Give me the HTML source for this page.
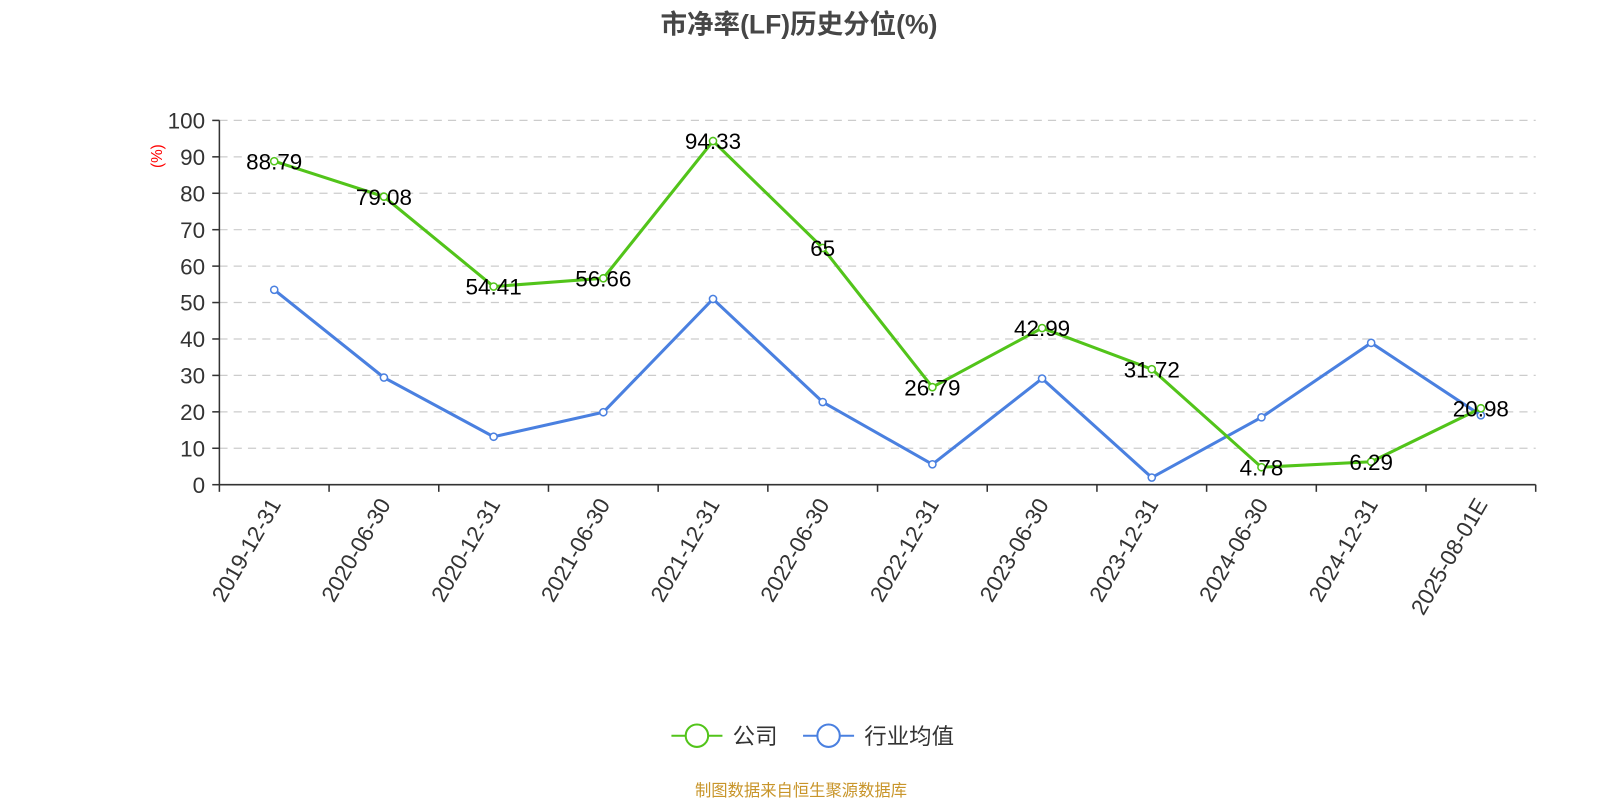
<!DOCTYPE html>
<html><head><meta charset="utf-8"><style>body{margin:0;background:#fff}svg{display:block}</style></head><body>
<svg width="1600" height="800" xmlns="http://www.w3.org/2000/svg" font-family="'Liberation Sans','Noto Sans CJK SC',sans-serif">
<g transform="scale(1.0204)">
<text x="783" y="33" text-anchor="middle" font-size="26" font-weight="bold" fill="#464646">市净率(LF)历史分位(%)</text>
<g stroke="#ccc" stroke-width="1.2" stroke-dasharray="8,6">
<line x1="215" x2="1505" y1="118" y2="118"/><line x1="215" x2="1505" y1="153.7" y2="153.7"/><line x1="215" x2="1505" y1="189.4" y2="189.4"/><line x1="215" x2="1505" y1="225.1" y2="225.1"/><line x1="215" x2="1505" y1="260.8" y2="260.8"/><line x1="215" x2="1505" y1="296.5" y2="296.5"/><line x1="215" x2="1505" y1="332.2" y2="332.2"/><line x1="215" x2="1505" y1="367.9" y2="367.9"/><line x1="215" x2="1505" y1="403.6" y2="403.6"/><line x1="215" x2="1505" y1="439.3" y2="439.3"/>
</g>
<g stroke="#333" stroke-width="1.5">
<line x1="215" x2="215" y1="118" y2="475"/><line x1="215" x2="1505" y1="475" y2="475"/>
<line x1="208" x2="215" y1="118" y2="118"/><line x1="208" x2="215" y1="153.7" y2="153.7"/><line x1="208" x2="215" y1="189.4" y2="189.4"/><line x1="208" x2="215" y1="225.1" y2="225.1"/><line x1="208" x2="215" y1="260.8" y2="260.8"/><line x1="208" x2="215" y1="296.5" y2="296.5"/><line x1="208" x2="215" y1="332.2" y2="332.2"/><line x1="208" x2="215" y1="367.9" y2="367.9"/><line x1="208" x2="215" y1="403.6" y2="403.6"/><line x1="208" x2="215" y1="439.3" y2="439.3"/><line x1="208" x2="215" y1="475" y2="475"/>
<line x1="215" x2="215" y1="475" y2="482"/><line x1="322.5" x2="322.5" y1="475" y2="482"/><line x1="430" x2="430" y1="475" y2="482"/><line x1="537.5" x2="537.5" y1="475" y2="482"/><line x1="645" x2="645" y1="475" y2="482"/><line x1="752.5" x2="752.5" y1="475" y2="482"/><line x1="860" x2="860" y1="475" y2="482"/><line x1="967.5" x2="967.5" y1="475" y2="482"/><line x1="1075" x2="1075" y1="475" y2="482"/><line x1="1182.5" x2="1182.5" y1="475" y2="482"/><line x1="1290" x2="1290" y1="475" y2="482"/><line x1="1397.5" x2="1397.5" y1="475" y2="482"/><line x1="1505" x2="1505" y1="475" y2="482"/>
</g>
<g font-size="22" fill="#333" text-anchor="end">
<text x="201" y="126">100</text><text x="201" y="161.7">90</text><text x="201" y="197.4">80</text><text x="201" y="233.1">70</text><text x="201" y="268.8">60</text><text x="201" y="304.5">50</text><text x="201" y="340.2">40</text><text x="201" y="375.9">30</text><text x="201" y="411.6">20</text><text x="201" y="447.3">10</text><text x="201" y="483">0</text>
</g>
<text transform="translate(159,153) rotate(-90)" font-size="15" fill="red" text-anchor="middle">(%)</text>
<g font-size="22" fill="#333" text-anchor="end">
<text transform="translate(276,494) rotate(-60)">2019-12-31</text>
<text transform="translate(383.5,494) rotate(-60)">2020-06-30</text>
<text transform="translate(491,494) rotate(-60)">2020-12-31</text>
<text transform="translate(598.5,494) rotate(-60)">2021-06-30</text>
<text transform="translate(706,494) rotate(-60)">2021-12-31</text>
<text transform="translate(813.5,494) rotate(-60)">2022-06-30</text>
<text transform="translate(921,494) rotate(-60)">2022-12-31</text>
<text transform="translate(1028.5,494) rotate(-60)">2023-06-30</text>
<text transform="translate(1136,494) rotate(-60)">2023-12-31</text>
<text transform="translate(1243.5,494) rotate(-60)">2024-06-30</text>
<text transform="translate(1351,494) rotate(-60)">2024-12-31</text>
<text transform="translate(1458.5,494) rotate(-60)">2025-08-01E</text>
</g>
<polyline fill="none" stroke="#4a80e0" stroke-width="3" points="268.75,284 376.25,370 483.75,428 591.25,404 698.75,293 806.25,394 913.75,455 1021.25,371 1128.75,468 1236.25,409 1343.75,336 1451.25,407"/>
<g fill="#fff" stroke="#4a80e0" stroke-width="1.5">
<circle cx="268.75" cy="284" r="3.5"/><circle cx="376.25" cy="370" r="3.5"/><circle cx="483.75" cy="428" r="3.5"/><circle cx="591.25" cy="404" r="3.5"/><circle cx="698.75" cy="293" r="3.5"/><circle cx="806.25" cy="394" r="3.5"/><circle cx="913.75" cy="455" r="3.5"/><circle cx="1021.25" cy="371" r="3.5"/><circle cx="1128.75" cy="468" r="3.5"/><circle cx="1236.25" cy="409" r="3.5"/><circle cx="1343.75" cy="336" r="3.5"/><circle cx="1451.25" cy="407" r="3.5"/>
</g>
<polyline fill="none" stroke="#52c41a" stroke-width="3" points="268.75,158 376.25,192.7 483.75,280.8 591.25,272.7 698.75,138.2 806.25,243 913.75,379.4 1021.25,321.5 1128.75,361.8 1236.25,457.9 1343.75,452.5 1451.25,400.1"/>
<g fill="#fff" stroke="#52c41a" stroke-width="1.5">
<circle cx="268.75" cy="158" r="3.5"/><circle cx="376.25" cy="192.7" r="3.5"/><circle cx="483.75" cy="280.8" r="3.5"/><circle cx="591.25" cy="272.7" r="3.5"/><circle cx="698.75" cy="138.2" r="3.5"/><circle cx="806.25" cy="243" r="3.5"/><circle cx="913.75" cy="379.4" r="3.5"/><circle cx="1021.25" cy="321.5" r="3.5"/><circle cx="1128.75" cy="361.8" r="3.5"/><circle cx="1236.25" cy="457.9" r="3.5"/><circle cx="1343.75" cy="452.5" r="3.5"/><circle cx="1451.25" cy="400.1" r="3.5"/>
</g>
<g font-size="22" fill="#000" text-anchor="middle">
<text x="268.75" y="166">88.79</text><text x="376.25" y="200.7">79.08</text><text x="483.75" y="288.8">54.41</text><text x="591.25" y="280.7">56.66</text><text x="698.75" y="146.2">94.33</text><text x="806.25" y="251">65</text><text x="913.75" y="387.4">26.79</text><text x="1021.25" y="329.5">42.99</text><text x="1128.75" y="369.8">31.72</text><text x="1236.25" y="465.9">4.78</text><text x="1343.75" y="460.5">6.29</text><text x="1451.25" y="408.1">20.98</text>
</g>
<line x1="658" x2="708" y1="721" y2="721" stroke="#52c41a" stroke-width="2"/><circle cx="683" cy="721" r="11" fill="#fff" stroke="#52c41a" stroke-width="2"/>
<text x="718" y="729" font-size="22" fill="#333">公司</text>
<line x1="787" x2="837" y1="721" y2="721" stroke="#4a80e0" stroke-width="2"/><circle cx="812" cy="721" r="11" fill="#fff" stroke="#4a80e0" stroke-width="2"/>
<text x="847" y="729" font-size="22" fill="#333">行业均值</text>
<text x="785" y="780" font-size="16" fill="#c8952a" text-anchor="middle">制图数据来自恒生聚源数据库</text>
</g>
</svg>
</body></html>
